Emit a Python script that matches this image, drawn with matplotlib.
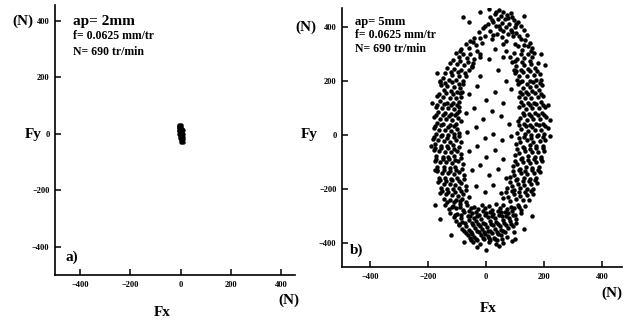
import matplotlib
matplotlib.use('Agg')
import matplotlib.pyplot as plt

# --- data (Fx, Fy in N) ---
# a) ap = 2 mm : small blob around the origin
blob_a = [(-5, 28), (0, 30), (3, 25), (-7, 20), (-2, 22), (4, 18), (-6, 12), (0, 15),
          (5, 10), (-4, 5), (2, 6), (7, 2), (-5, -2), (0, 0), (6, -5), (-3, -8),
          (3, -10), (9, -12), (-2, -15), (4, -18), (10, -20), (1, -22), (6, -25),
          (11, -28), (3, -30), (-6, 30), (-8, 25), (8, 14), (-8, 8), (8, -2)]

# b) ap = 5 mm : ring of points
top_cap_b = [(45, 462), (60, 455), (30, 448), (72, 445), (50, 440), (88, 438), (15, 435),
             (40, 430), (65, 428), (95, 425), (110, 420), (25, 418), (55, 415), (80, 412),
             (5, 410), (120, 405), (35, 402), (70, 400), (100, 398), (-10, 395), (48, 392),
             (85, 390), (130, 388), (15, 385), (60, 383), (-25, 380), (105, 378), (38, 375),
             (75, 372), (140, 370), (-5, 368), (92, 365), (55, 362), (-40, 360), (120, 357),
             (20, 355), (135, 350), (-55, 348), (70, 347), (150, 342), (-15, 340), (100, 338),
             (-70, 335), (145, 330), (-35, 332), (110, 328), (160, 322), (-85, 320), (125, 315),
             (-80, 437), (-20, 455), (130, 440), (-60, 420), (10, 468), (85, 452),
             (35, 455), (75, 432), (20, 425), (105, 410), (45, 405), (-5, 405), (90, 380),
             (25, 370), (115, 365), (-20, 358), (60, 335), (-45, 345), (130, 332), (-60, 322),
             (155, 310), (-90, 310)]

left_band_b = [(-105, 305), (-80, 300), (-55, 298), (-30, 310), (-95, 290), (-65, 285), (-40, 282),
               (-115, 278), (-20, 290), (-125, 265), (-100, 262), (-75, 258), (-50, 255),
               (-135, 248), (-110, 245), (-85, 242), (-60, 240), (-45, 268), (-140, 228),
               (-118, 222), (-92, 220), (-70, 218), (-150, 210), (-128, 205), (-105, 203),
               (-80, 200), (-160, 195), (-155, 185), (-135, 180), (-112, 178), (-90, 175),
               (-78, 188), (-145, 165), (-122, 162), (-100, 160), (-82, 158), (-168, 145),
               (-148, 140), (-125, 138), (-105, 135), (-88, 142), (-158, 125), (-135, 120),
               (-115, 118), (-95, 122), (-172, 105), (-152, 100), (-130, 98), (-110, 95),
               (-92, 102), (-165, 85), (-142, 80), (-120, 78), (-100, 82), (-178, 65),
               (-158, 60), (-138, 58), (-118, 55), (-96, 62), (-170, 45), (-148, 40),
               (-126, 38), (-105, 42), (-88, 50), (-180, 25), (-162, 20), (-140, 18),
               (-120, 15), (-100, 22), (-174, 5), (-152, 0), (-130, -2), (-110, 3), (-92, 8),
               (-182, -15), (-165, -20), (-145, -22), (-125, -25), (-105, -18), (-88, -28),
               (-175, -35), (-155, -40), (-135, -42), (-115, -38), (-180, -55), (-162, -60),
               (-142, -62), (-122, -65), (-100, -58), (-85, -70), (-172, -78), (-150, -80),
               (-130, -82), (-110, -78), (-176, -95), (-158, -100), (-138, -102), (-118, -105),
               (-98, -98), (-80, -108), (-168, -118), (-146, -120), (-126, -122), (-106, -118),
               (-170, -135), (-152, -140), (-132, -142), (-112, -145), (-92, -138), (-75, -150),
               (-162, -158), (-140, -160), (-120, -162), (-100, -158), (-165, -175), (-146, -180),
               (-126, -182), (-106, -185), (-86, -178), (-68, -190), (-155, -198), (-134, -200),
               (-114, -202), (-94, -198), (-158, -215), (-138, -220), (-118, -222), (-98, -225),
               (-78, -218), (-60, -230), (-145, -238), (-124, -240), (-104, -242), (-84, -238),
               (-90, 272), (-62, 270), (-120, 232), (-96, 234), (-72, 230), (-140, 192),
               (-116, 195), (-92, 190), (-162, 152), (-138, 155), (-114, 150), (-90, 155),
               (-168, 112), (-146, 115), (-122, 110), (-100, 112), (-174, 72), (-150, 75),
               (-128, 70), (-106, 72), (-92, 88), (-176, 32), (-154, 35), (-132, 30), (-110, 32),
               (-94, -5), (-178, -8), (-156, -5), (-134, -10), (-112, -8), (-176, -48),
               (-154, -50), (-132, -48), (-110, -52), (-92, -45), (-174, -88), (-150, -90),
               (-128, -88), (-106, -92), (-88, -85), (-168, -128), (-146, -130), (-124, -132),
               (-102, -128), (-84, -125), (-160, -168), (-138, -170), (-116, -168), (-94, -172),
               (-76, -165), (-152, -208), (-130, -210), (-108, -212), (-88, -208), (-70, -205),
               (-136, -250), (-112, -250), (-90, -246), (-68, -248)]

right_band_b = [(165, 305), (145, 300), (120, 298), (95, 302), (70, 310), (158, 288), (132, 285),
                (108, 282), (82, 290), (178, 265), (155, 262), (130, 258), (105, 255), (90, 270),
                (170, 248), (145, 245), (120, 242), (98, 240), (185, 225), (165, 222), (140, 220),
                (115, 218), (100, 230), (190, 205), (172, 202), (150, 200), (125, 198), (108, 205),
                (192, 185), (172, 182), (150, 178), (128, 175), (110, 188), (182, 165), (160, 162),
                (138, 160), (116, 158), (198, 145), (178, 140), (156, 138), (134, 135), (112, 142),
                (188, 122), (166, 120), (144, 118), (122, 122), (202, 105), (182, 100), (160, 98),
                (138, 95), (115, 102), (192, 82), (170, 80), (148, 78), (126, 82), (206, 65),
                (185, 60), (162, 58), (140, 55), (116, 62), (196, 42), (174, 40), (152, 38),
                (130, 42), (110, 50), (212, 25), (190, 20), (168, 18), (145, 15), (122, 22),
                (200, 2), (178, 0), (156, -2), (134, 3), (108, 8), (205, -18), (185, -22),
                (162, -25), (140, -20), (118, -28), (195, -40), (172, -42), (150, -38), (128, -45),
                (104, -35), (200, -58), (180, -62), (158, -65), (136, -60), (114, -68), (190, -80),
                (168, -82), (146, -78), (124, -85), (100, -75), (192, -98), (172, -102), (150, -105),
                (128, -100), (106, -108), (182, -120), (160, -122), (138, -118), (116, -125),
                (92, -115), (185, -138), (164, -142), (142, -145), (120, -140), (98, -148),
                (174, -160), (152, -162), (130, -158), (108, -165), (84, -155), (175, -178),
                (154, -182), (132, -185), (110, -180), (88, -188), (162, -200), (140, -202),
                (118, -198), (96, -205), (72, -195), (162, -218), (140, -222), (118, -225),
                (96, -220), (74, -228), (148, -240), (126, -242), (104, -238), (82, -245), (60, -235),
                (150, 272), (125, 270), (100, 275), (175, 235), (150, 235), (128, 232), (105, 236),
                (185, 192), (162, 195), (140, 190), (118, 195), (190, 152), (168, 155), (145, 150),
                (124, 150), (195, 112), (172, 115), (150, 110), (128, 112), (200, 72), (178, 75),
                (155, 70), (132, 72), (204, 32), (182, 35), (160, 30), (138, 32), (115, 35),
                (198, -8), (176, -5), (154, -10), (132, -8), (112, -12), (196, -48), (174, -50),
                (152, -52), (130, -50), (108, -52), (188, -88), (166, -90), (144, -92), (122, -88),
                (100, -95), (180, -128), (158, -130), (136, -132), (114, -128), (92, -135),
                (170, -168), (148, -170), (126, -172), (104, -168), (82, -175), (156, -208),
                (134, -210), (112, -212), (90, -208), (68, -212)]

bottom_cap_b = [(-140, -258), (-115, -262), (-90, -255), (-65, -260), (-40, -265), (-15, -258),
                (10, -262), (35, -255), (60, -260), (85, -265), (110, -258), (135, -262),
                (-128, -275), (-102, -272), (-78, -278), (-52, -270), (-28, -276), (-3, -272),
                (22, -278), (48, -270), (72, -276), (98, -272), (120, -278),
                (-125, -288), (-100, -292), (-75, -285), (-50, -290), (-25, -295), (0, -288),
                (25, -292), (50, -285), (75, -290), (100, -295), (122, -288),
                (-112, -305), (-88, -308), (-64, -302), (-40, -306), (-16, -310), (8, -304),
                (32, -308), (56, -302), (80, -306), (102, -310),
                (-105, -318), (-82, -322), (-58, -315), (-35, -320), (-12, -325), (12, -318),
                (35, -322), (58, -315), (82, -320), (105, -325),
                (-92, -335), (-68, -338), (-45, -332), (-22, -336), (2, -340), (25, -334),
                (48, -338), (70, -332), (92, -336),
                (-82, -348), (-60, -352), (-38, -345), (-15, -350), (8, -355), (30, -348),
                (52, -352), (75, -345), (95, -358),
                (-70, -362), (-48, -365), (-25, -360), (-2, -365), (20, -362), (42, -366), (65, -360),
                (-62, -372), (-40, -378), (-18, -370), (5, -375), (28, -380), (50, -372), (72, -378),
                (-52, -388), (-30, -390), (-8, -386), (15, -390), (38, -388),
                (-45, -398), (-20, -402), (10, -395), (35, -405), (60, -400), (88, -392),
                (-30, -415), (45, -412), (100, -385), (-75, -395), (0, -425),
                (-118, -268), (-90, -266), (-60, -280), (-35, -284), (-10, -282), (15, -286),
                (40, -280), (65, -284), (90, -282), (112, -268), (-108, -298), (-85, -298),
                (-55, -300), (-30, -302), (-5, -298), (20, -300), (45, -296), (70, -300),
                (92, -298), (-95, -328), (-72, -326), (-50, -326), (-28, -328), (-5, -330),
                (18, -328), (40, -328), (62, -326), (85, -330), (-75, -355), (-52, -358),
                (-30, -355), (-8, -358), (15, -356), (38, -358), (60, -356), (-55, -382),
                (-35, -384), (-12, -380), (10, -382), (32, -384), (55, -384)]

inside_b = [(-50, 250), (-20, 220), (10, 280), (40, 240), (70, 200), (-60, 150), (-30, 180),
            (0, 130), (30, 160), (60, 120), (85, 170), (-70, 80), (-40, 100), (-10, 60), (20, 90),
            (50, 70), (80, 40), (-65, 10), (-35, 30), (-5, -10), (25, 5), (55, -20), (85, -5),
            (-60, -60), (-30, -40), (0, -80), (30, -55), (60, -90), (-50, -130), (-20, -110),
            (10, -150), (40, -125), (70, -160), (-35, -190), (-5, -210), (25, -185), (50, -215),
            (-20, 300), (30, 320), (60, 290)]

outliers_b = [(-190, -40), (-185, 120), (-170, 230), (220, -5), (215, 110), (205, 260),
              (-175, -260), (-160, -310), (160, -300), (130, -350), (-120, -370), (222, 55),
              (-176, -130), (-159, 200), (190, 300)]

ticks = [-400, -200, 0, 200, 400]

FONT = 'Liberation Serif'
W, H = 630, 324


def px(x, y):
    # figure pixel (from top-left) -> figure fraction
    return x / W, 1 - y / H


def style_axes(ax, xlim, ylim):
    ax.set_xlim(*xlim)
    ax.set_ylim(*ylim)
    ax.set_xticks(ticks)
    ax.set_yticks(ticks)
    for s in ['top', 'right']:
        ax.spines[s].set_visible(False)
    for s in ['left', 'bottom']:
        ax.spines[s].set_linewidth(1.2)
    ax.tick_params(direction='in', length=4, width=1.1, pad=4,
                   labelsize=6)
    for lab in ax.get_xticklabels() + ax.get_yticklabels():
        lab.set_family(FONT)
        lab.set_fontweight('bold')


def txt(x, y, s, size=11, ha='center'):
    fig.text(*px(x, y), s, ha=ha, va='center', fontsize=size,
             family=FONT, fontweight='bold')


fig = plt.figure(figsize=(6.3, 3.24), dpi=100)
ax1 = fig.add_axes([55 / W, 1 - 275 / H, 240 / W, 270 / H])
ax2 = fig.add_axes([342 / W, 1 - 267 / H, 280 / W, 259 / H])

xa = [p[0] for p in blob_a]
ya = [p[1] for p in blob_a]
ax1.plot(xa, ya, 'o', color='black', markersize=3.2, markeredgewidth=0)
style_axes(ax1, (-500, 455), (-500, 455))

ring_b = top_cap_b + left_band_b + right_band_b + bottom_cap_b + inside_b + outliers_b
xb = [p[0] for p in ring_b]
yb = [p[1] for p in ring_b]
ax2.plot(xb, yb, 'o', color='black', markersize=3.2, markeredgewidth=0)
style_axes(ax2, (-497, 469), (-489, 470))

# panel a texts
txt(23, 21, '(N)')
txt(33, 134, 'Fy')
txt(162, 312, 'Fx')
txt(289, 300, '(N)')
txt(65, 257, 'a)', ha='left')
txt(73, 21, 'ap= 2mm', size=11, ha='left')
txt(73, 36, 'f= 0.0625 mm/tr', size=8.5, ha='left')
txt(73, 52, 'N= 690 tr/min', size=8.5, ha='left')

# panel b texts
txt(306, 27, '(N)')
txt(309, 134, 'Fy')
txt(488, 308, 'Fx')
txt(612, 293, '(N)')
txt(350, 250, 'b)', ha='left')
txt(355, 22, 'ap= 5mm', size=9, ha='left')
txt(355, 35, 'f= 0.0625 mm/tr', size=8.5, ha='left')
txt(355, 49, 'N= 690 tr/min', size=8.5, ha='left')

fig.savefig('out.png', dpi=100)
